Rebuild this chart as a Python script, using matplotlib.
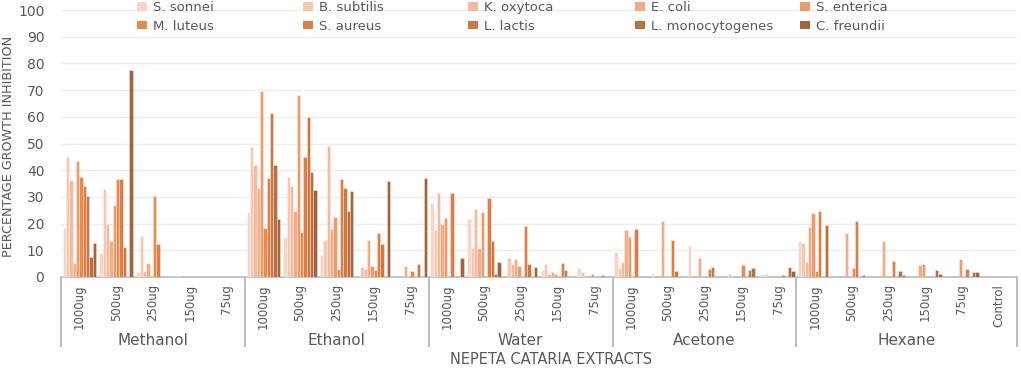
import matplotlib
matplotlib.use("Agg")
import matplotlib.pyplot as plt
import matplotlib.transforms as mtransforms
from matplotlib.patches import Patch
import numpy as np

# ---------------- data ----------------
groups = ["Methanol", "Ethanol", "Water", "Acetone", "Hexane"]
group_sizes = [5, 5, 5, 5, 6]
categories = ["1000ug", "500ug", "250ug", "150ug", "75ug",
              "1000ug", "500ug", "250ug", "150ug", "75ug",
              "1000ug", "500ug", "250ug", "150ug", "75ug",
              "1000ug", "500ug", "250ug", "150ug", "75ug",
              "1000ug", "500ug", "250ug", "150ug", "75ug", "Control"]

series_names = ["S. sonnei", "B. subtilis", "K. oxytoca", "E. coli", "S. enterica",
                "M. luteus", "S. aureus", "L. lactis", "L. monocytogenes", "C. freundii"]

s_sonnei = [18.5, 9.1, 2.0, 0, 0,   24.3, 14.9, 8.1, 0, 0,      27.6, 21.8, 0, 2.5, 3.5,
            9.3, 1.0, 11.5, 0, 1.3,  13.6, 0, 0, 0, 0, 0]
b_subtilis = [44.8, 32.8, 15.5, 0.5, 0,  48.6, 37.5, 13.8, 3.6, 0,  17.6, 10.9, 7.0, 4.8, 1.8,
              3.3, 0, 0, 1.3, 1.3,  12.6, 0, 0, 0, 0, 0]
k_oxytoca = [36.3, 20.0, 2.1, 0, 0,  42.1, 33.9, 48.9, 3.0, 0,  31.3, 25.6, 5.0, 1.0, 0,
             5.5, 0, 0, 0, 0,  5.7, 0, 0, 0, 0, 0]
e_coli = [5.1, 13.3, 5.1, 0, 0,  33.4, 24.9, 18.0, 14.0, 4.1,  19.9, 10.8, 6.9, 2.0, 0,
          17.5, 20.8, 7.1, 0, 0,  18.6, 16.5, 13.3, 4.5, 0, 0]
s_enterica = [43.6, 26.8, 0, 0, 0,  69.5, 68.0, 22.3, 4.0, 0,  22.0, 24.5, 4.0, 1.0, 1.0,
              14.8, 0, 0, 0, 0,  24.1, 0, 0, 4.8, 6.8, 0]
m_luteus = [37.3, 36.6, 30.5, 0, 0,  18.4, 16.9, 3.1, 2.6, 2.1,  0, 0, 0, 0, 0,
            0, 0, 0, 4.6, 0,  2.1, 3.5, 0, 0, 0, 0]
s_aureus = [34.1, 36.6, 12.4, 0, 0,  36.9, 44.9, 36.6, 16.5, 0,  31.3, 29.5, 19.0, 5.4, 0,
            17.8, 14.0, 3.1, 0, 0.8,  24.6, 20.8, 6.1, 0, 2.9, 0]
l_lactis = [30.3, 11.1, 0, 0, 0,  61.6, 60.0, 33.5, 12.4, 4.9,  0, 13.5, 5.0, 2.5, 0.9,
            0, 2.1, 3.6, 2.8, 0,  0, 0, 0, 0, 0, 0]
l_monocytogenes = [7.4, 0, 0, 0, 0,  41.8, 39.5, 24.9, 0, 0,  0, 1.3, 0, 0, 0,
                   0, 0, 0, 3.5, 3.8,  19.6, 0.9, 2.3, 2.8, 2.0, 0]
c_freundii = [12.9, 77.4, 0, 0, 0,  21.8, 32.4, 32.3, 35.8, 37.1,  7.3, 5.6, 3.8, 0.4, 0,
              0, 0, 0, 0, 2.4,  0, 0, 0.6, 1.3, 2.0, 0]

series_values = [s_sonnei, b_subtilis, k_oxytoca, e_coli, s_enterica,
                 m_luteus, s_aureus, l_lactis, l_monocytogenes, c_freundii]

y_ticks = [0, 10, 20, 30, 40, 50, 60, 70, 80, 90, 100]

# ---------------- style ----------------
colors = ["#F8D6C6", "#F6C8B2", "#F4BA9D", "#F1AC88", "#EE9B6B",
          "#E88A4E", "#DC7F46", "#CD7843", "#BB6F41", "#A6633B"]
text_col = "#595959"
line_col = "#BFBFBF"

W, H = 1021, 369
fig = plt.figure(figsize=(W / 100, H / 100), dpi=100)
ax = fig.add_axes([61 / W, 1 - 277 / H, (1017 - 61) / W, (277 - 10) / H])

n_cat = len(categories)
x = np.arange(n_cat)
bw = 0.0906
for i, (name, vals) in enumerate(zip(series_names, series_values)):
    ax.bar(x + (i - 4.5) * bw, vals, width=bw, color=colors[i],
           edgecolor=(1, 1, 1, 0.45), linewidth=0.5, label=name, zorder=3)

ax.set_xlim(-0.5, n_cat - 0.5)
ax.set_ylim(0, 100)
ax.set_yticks(y_ticks)
ax.yaxis.grid(True, color="#EDEDED", linewidth=1.0, zorder=0)
ax.set_axisbelow(True)
for s in ["left", "top", "right"]:
    ax.spines[s].set_visible(False)
ax.spines["bottom"].set_color(line_col)
ax.spines["bottom"].set_linewidth(1.3)
ax.tick_params(axis="y", length=0, pad=12, labelsize=10, labelcolor=text_col)
ax.set_xticks(x)
ax.set_xticklabels(categories, rotation=90, fontsize=8.5, color=text_col, va="top", ha="center")
ax.tick_params(axis="x", length=0, pad=5)

# group separators and group labels
trans = mtransforms.blended_transform_factory(ax.transData, ax.transAxes)
bounds = np.concatenate([[0], np.cumsum(group_sizes)]) - 0.5
for b in bounds:
    ax.plot([b, b], [0, -0.262], transform=trans, color=line_col, lw=1.5,
            clip_on=False, solid_capstyle="butt")
for g, lo, hi in zip(groups, bounds[:-1], bounds[1:]):
    ax.text((lo + hi) / 2, -0.236, g, transform=trans, ha="center", va="center",
            fontsize=11, color=text_col)

fig.text(551 / W, 1 - 360 / H, "NEPETA CATARIA EXTRACTS", ha="center", va="center",
         fontsize=10.5, color=text_col)
fig.text(9 / W, 1 - 146 / H, "PERCENTAGE GROWTH INHIBITION", rotation=90,
         ha="center", va="center", fontsize=9.2, color=text_col)

# legend: 5 columns, 2 rows, row-major order
col_x = [137, 303, 468, 635, 800]
for c in range(5):
    hs = [Patch(facecolor=colors[c]), Patch(facecolor=colors[c + 5])]
    labs = [series_names[c], series_names[c + 5]]
    leg = fig.legend(hs, labs, loc="upper left", bbox_to_anchor=(col_x[c] / W, 1.0 - 1 / H),
                     frameon=False, fontsize=9.5, handlelength=0.75, handleheight=0.6,
                     handletextpad=0.5, labelspacing=0.45, borderpad=0, borderaxespad=0)
    for t in leg.get_texts():
        t.set_color(text_col)

fig.savefig("out.png", dpi=100)
